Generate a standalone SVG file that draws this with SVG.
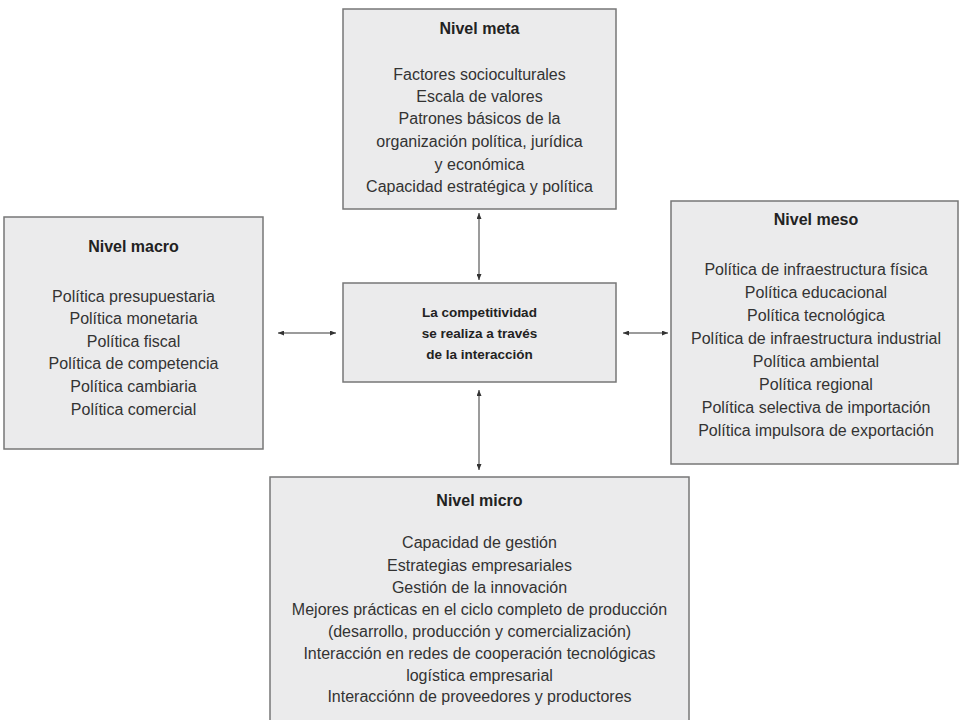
<svg xmlns="http://www.w3.org/2000/svg" width="959" height="720" viewBox="0 0 959 720">
<style>
.box{fill:#ebebec;stroke:#777;stroke-width:1.5}
.t{font-family:"Liberation Sans",Arial,sans-serif;font-size:16px;fill:#333;text-anchor:middle}
.h{font-weight:bold;fill:#222}
.c{font-family:"Liberation Sans",Arial,sans-serif;font-size:13.5px;font-weight:bold;fill:#222;text-anchor:middle}
.con{stroke:#7a7a7a;stroke-width:1.5;fill:none;marker-start:url(#ah);marker-end:url(#ah)}
</style>
<defs>
<marker id="ah" viewBox="0 0 6 5" refX="6" refY="2.5" markerWidth="6" markerHeight="5" markerUnits="userSpaceOnUse" orient="auto-start-reverse">
<path d="M0,0 L6,2.5 L0,5 z" fill="#333"/>
</marker>
</defs>
<rect width="959" height="720" fill="#fff"/>
<g id="connectors">
<line class="con" x1="479" y1="213" x2="479" y2="280"/>
<line class="con" x1="479" y1="390" x2="479" y2="470"/>
<line class="con" x1="278" y1="333" x2="336" y2="333"/>
<line class="con" x1="623" y1="333" x2="668" y2="333"/>
</g>
<g id="meta">
<rect class="box" x="343" y="9" width="273" height="200"/>
<text class="t h" x="479.5" y="34">Nivel meta</text>
<text class="t" x="479.5" y="80">Factores socioculturales</text>
<text class="t" x="479.5" y="102">Escala de valores</text>
<text class="t" x="479.5" y="124">Patrones básicos de la</text>
<text class="t" x="479.5" y="147">organización política, jurídica</text>
<text class="t" x="479.5" y="170">y económica</text>
<text class="t" x="479.5" y="192">Capacidad estratégica y política</text>
</g>
<g id="macro">
<rect class="box" x="4" y="217" width="259" height="232"/>
<text class="t h" x="133.5" y="252">Nivel macro</text>
<text class="t" x="133.5" y="302">Política presupuestaria</text>
<text class="t" x="133.5" y="324">Política monetaria</text>
<text class="t" x="133.5" y="347">Política fiscal</text>
<text class="t" x="133.5" y="369">Política de competencia</text>
<text class="t" x="133.5" y="392">Política cambiaria</text>
<text class="t" x="133.5" y="415">Política comercial</text>
</g>
<g id="centro">
<rect class="box" x="343" y="283" width="273" height="99"/>
<text class="c" x="479.5" y="317">La competitividad</text>
<text class="c" x="479.5" y="338">se realiza a través</text>
<text class="c" x="479.5" y="359">de la interacción</text>
</g>
<g id="meso">
<rect class="box" x="671" y="201" width="287" height="263"/>
<text class="t h" x="816" y="225">Nivel meso</text>
<text class="t" x="816" y="275">Política de infraestructura física</text>
<text class="t" x="816" y="298">Política educacional</text>
<text class="t" x="816" y="321">Política tecnológica</text>
<text class="t" x="816" y="344">Política de infraestructura industrial</text>
<text class="t" x="816" y="367">Política ambiental</text>
<text class="t" x="816" y="390">Política regional</text>
<text class="t" x="816" y="413">Política selectiva de importación</text>
<text class="t" x="816" y="436">Política impulsora de exportación</text>
</g>
<g id="micro">
<rect class="box" x="270" y="477" width="419" height="250"/>
<text class="t h" x="479.5" y="506">Nivel micro</text>
<text class="t" x="479.5" y="548">Capacidad de gestión</text>
<text class="t" x="479.5" y="571">Estrategias empresariales</text>
<text class="t" x="479.5" y="593">Gestión de la innovación</text>
<text class="t" x="479.5" y="615">Mejores prácticas en el ciclo completo de producción</text>
<text class="t" x="479.5" y="637">(desarrollo, producción y comercialización)</text>
<text class="t" x="479.5" y="659">Interacción en redes de cooperación tecnológicas</text>
<text class="t" x="479.5" y="681">logística empresarial</text>
<text class="t" x="479.5" y="702">Interacciónn de proveedores y productores</text>
</g>
</svg>
